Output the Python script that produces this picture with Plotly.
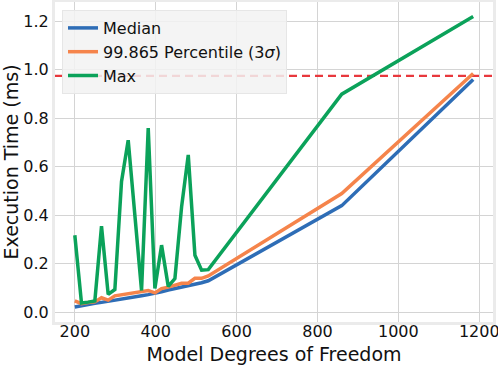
import plotly.graph_objects as go

dof = [200, 216.5, 233, 249.5, 266, 282.5, 299, 315.5, 332, 348.5, 365, 381.5,
       398, 414.5, 431, 447.5, 464, 480.5, 497, 513.5, 530, 860, 1185]
median = [0.022, 0.028, 0.033, 0.037, 0.041, 0.045, 0.050, 0.055, 0.058, 0.063,
          0.068, 0.073, 0.078, 0.085, 0.092, 0.098, 0.102, 0.108, 0.115, 0.122,
          0.130, 0.440, 0.960]
p99865 = [0.047, 0.036, 0.040, 0.043, 0.060, 0.050, 0.068, 0.072, 0.076, 0.080,
          0.085, 0.090, 0.080, 0.098, 0.104, 0.112, 0.120, 0.120, 0.140, 0.140,
          0.150, 0.490, 0.985]
maxv = [0.318, 0.038, 0.042, 0.047, 0.355, 0.074, 0.094, 0.540, 0.710, 0.400,
        0.090, 0.760, 0.098, 0.277, 0.107, 0.139, 0.435, 0.649, 0.235, 0.174,
        0.176, 0.900, 1.220]
threshold = 0.975

xticks = [200, 400, 600, 800, 1000, 1200]
yticks = [0.0, 0.2, 0.4, 0.6, 0.8, 1.0, 1.2]

fig = go.Figure()
fig.add_trace(go.Scatter(x=[151, 1234], y=[threshold, threshold], mode="lines",
                         line=dict(color="#e8383d", width=2.2, dash="8px,5px"),
                         showlegend=False, hoverinfo="skip"))
fig.add_trace(go.Scatter(x=dof, y=median, mode="lines", name="Median",
                         line=dict(color="#2e6db6", width=3.5)))
fig.add_trace(go.Scatter(x=dof, y=p99865, mode="lines",
                         name="99.865 Percentile (3<i>σ</i>)",
                         line=dict(color="#f5844b", width=3.5)))
fig.add_trace(go.Scatter(x=dof, y=maxv, mode="lines", name="Max",
                         line=dict(color="#0ba25a", width=3.5)))

axis_common = dict(showgrid=True, gridcolor="#d4d4d4", gridwidth=1.3,
                   showline=True, linecolor="#ebebeb", linewidth=3, mirror=True,
                   zeroline=False, ticks="", ticklen=0, automargin=False,
                   ticklabeloverflow="allow",
                   tickfont=dict(size=16, color="#111"))

fig.update_layout(
    width=498, height=365,
    margin=dict(l=55, r=5, t=2, b=43),
    paper_bgcolor="white", plot_bgcolor="white",
    font=dict(family="DejaVu Sans", color="#111"),
    xaxis=dict(range=[151, 1234], tickvals=xticks, ticklabelstandoff=-7,
               title=dict(text="Model Degrees of Freedom", font=dict(size=19)),
               **axis_common),
    yaxis=dict(range=[-0.04, 1.28], tickvals=yticks, tickformat=".1f",
               title=dict(text="Execution Time (ms)", font=dict(size=19)),
               **axis_common),
    legend=dict(x=0.016, y=0.975, xanchor="left", yanchor="top",
                bgcolor="rgba(242,242,242,0.85)", bordercolor="#e6e6e6", borderwidth=1,
                font=dict(size=16, color="#111"), tracegroupgap=0, itemwidth=30),
)

fig.write_html("out.html", config={"displayModeBar": False},
               post_script="document.body.style.margin='0';document.body.style.overflow='hidden';")
